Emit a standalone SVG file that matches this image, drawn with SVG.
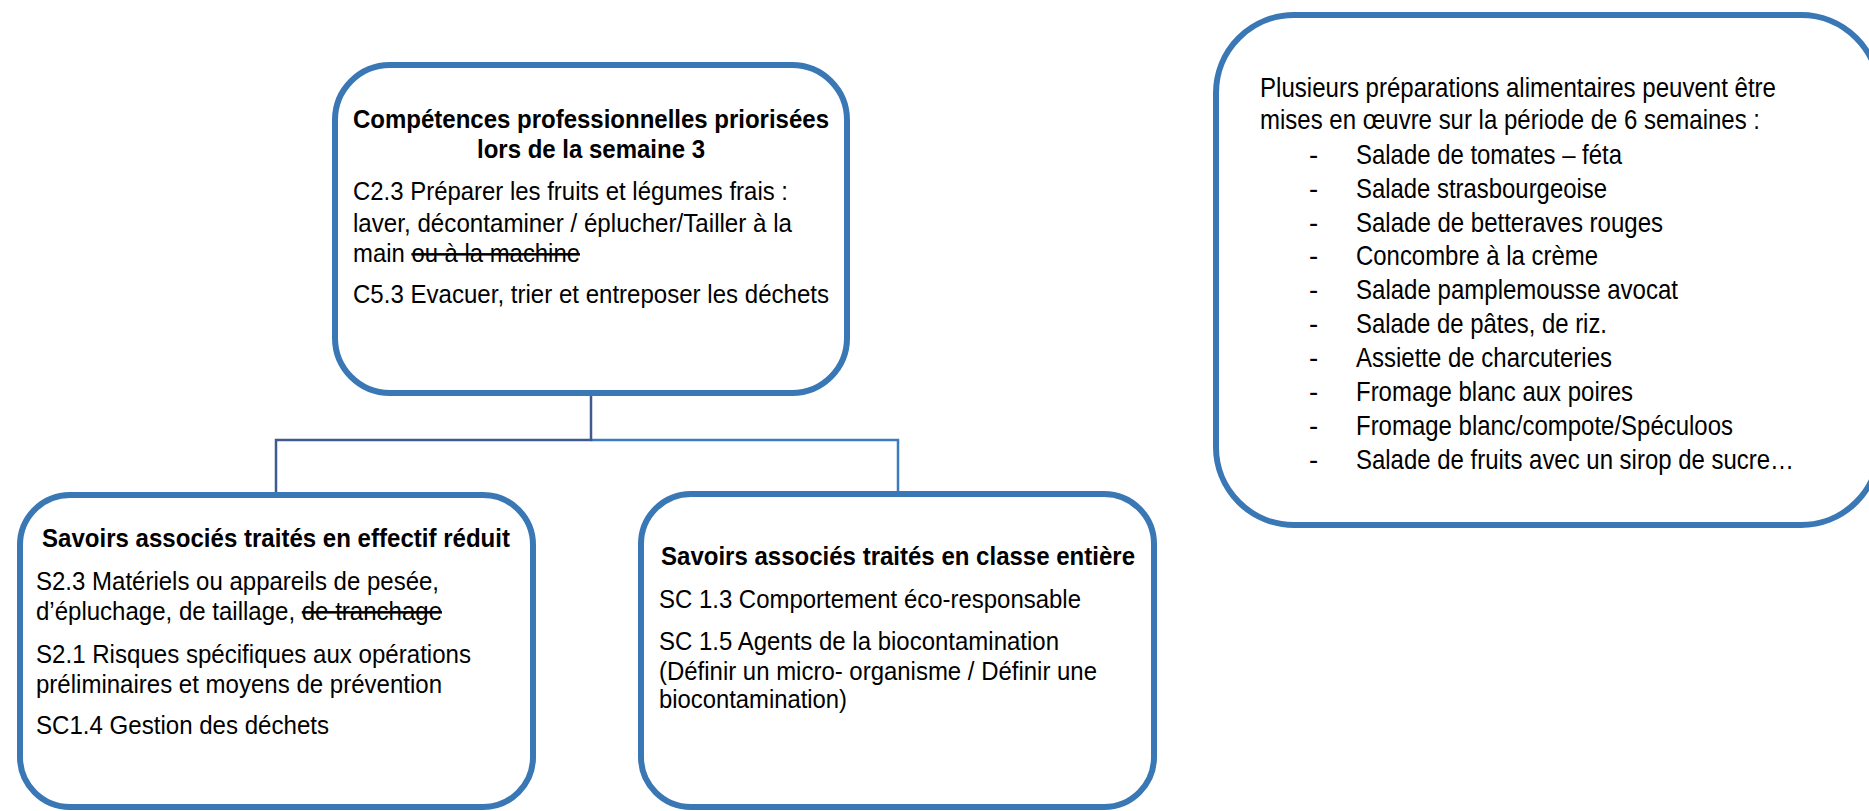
<svg xmlns="http://www.w3.org/2000/svg" width="1869" height="811" viewBox="0 0 1869 811">
<style>
.box{fill:#fff;stroke:#3a77b5;stroke-width:6}
.t{font-family:"Liberation Sans",Arial,sans-serif;font-size:25px;fill:#000}
.tb{font-family:"Liberation Sans",Arial,sans-serif;font-size:25px;font-weight:bold;fill:#000}
.tr{font-family:"Liberation Sans",Arial,sans-serif;font-size:27.5px;fill:#000}
.s{text-decoration:line-through}
</style>
<rect width="1869" height="811" fill="#fff"/>
<g id="connectors" fill="none" stroke-width="2.5">
<path d="M591,440 H898 V494" stroke="#3b7bbf"/>
<path d="M591,395 V440 H276 V495" stroke="#3f5a8f"/>
</g>
<g id="node-top">
<rect class="box" x="335" y="65" width="512" height="328" rx="55"/>
<text class="tb" x="591" y="128" text-anchor="middle" textLength="476" lengthAdjust="spacingAndGlyphs">Compétences professionnelles priorisées</text>
<text class="tb" x="591" y="158" text-anchor="middle" textLength="228" lengthAdjust="spacingAndGlyphs">lors de la semaine 3</text>
<text class="t" x="353" y="200" textLength="435" lengthAdjust="spacingAndGlyphs">C2.3 Préparer les fruits et légumes frais :</text>
<text class="t" x="353" y="232" textLength="439" lengthAdjust="spacingAndGlyphs">laver, décontaminer / éplucher/Tailler à la</text>
<text class="t" x="353" y="262" textLength="227" lengthAdjust="spacingAndGlyphs">main <tspan class="s">ou à la machine</tspan></text>
<text class="t" x="353" y="303" textLength="476" lengthAdjust="spacingAndGlyphs">C5.3 Evacuer, trier et entreposer les déchets</text>
</g>
<g id="node-left">
<rect class="box" x="20" y="495" width="513" height="312" rx="50"/>
<text class="tb" x="276" y="547" text-anchor="middle" textLength="468" lengthAdjust="spacingAndGlyphs">Savoirs associés traités en effectif réduit</text>
<text class="t" x="36" y="590" textLength="403" lengthAdjust="spacingAndGlyphs">S2.3 Matériels ou appareils de pesée,</text>
<text class="t" x="36" y="620" textLength="406" lengthAdjust="spacingAndGlyphs">d’épluchage, de taillage, <tspan class="s">de tranchage</tspan></text>
<text class="t" x="36" y="663" textLength="435" lengthAdjust="spacingAndGlyphs">S2.1 Risques spécifiques aux opérations</text>
<text class="t" x="36" y="693" textLength="406" lengthAdjust="spacingAndGlyphs">préliminaires et moyens de prévention</text>
<text class="t" x="36" y="734" textLength="293" lengthAdjust="spacingAndGlyphs">SC1.4 Gestion des déchets</text>
</g>
<g id="node-right">
<rect class="box" x="641" y="494" width="513" height="313" rx="50"/>
<text class="tb" x="898" y="565" text-anchor="middle" textLength="474" lengthAdjust="spacingAndGlyphs">Savoirs associés traités en classe entière</text>
<text class="t" x="659" y="608" textLength="422" lengthAdjust="spacingAndGlyphs">SC 1.3 Comportement éco-responsable</text>
<text class="t" x="659" y="650" textLength="400" lengthAdjust="spacingAndGlyphs">SC 1.5 Agents de la biocontamination</text>
<text class="t" x="659" y="680" textLength="438" lengthAdjust="spacingAndGlyphs">(Définir un micro- organisme / Définir une</text>
<text class="t" x="659" y="708" textLength="188" lengthAdjust="spacingAndGlyphs">biocontamination)</text>
</g>
<g id="node-preparations">
<rect class="box" x="1216" y="15" width="663" height="510" rx="78"/>
<text class="tr" x="1260" y="97" textLength="516" lengthAdjust="spacingAndGlyphs">Plusieurs préparations alimentaires peuvent être</text>
<text class="tr" x="1260" y="129" textLength="500" lengthAdjust="spacingAndGlyphs">mises en œuvre sur la période de 6 semaines :</text>
<g class="tr">
<text x="1309" y="164">-</text><text x="1356" y="164" textLength="266" lengthAdjust="spacingAndGlyphs">Salade de tomates – féta</text>
<text x="1309" y="198">-</text><text x="1356" y="198" textLength="251" lengthAdjust="spacingAndGlyphs">Salade strasbourgeoise</text>
<text x="1309" y="232">-</text><text x="1356" y="232" textLength="307" lengthAdjust="spacingAndGlyphs">Salade de betteraves rouges</text>
<text x="1309" y="265">-</text><text x="1356" y="265" textLength="242" lengthAdjust="spacingAndGlyphs">Concombre à la crème</text>
<text x="1309" y="299">-</text><text x="1356" y="299" textLength="322" lengthAdjust="spacingAndGlyphs">Salade pamplemousse avocat</text>
<text x="1309" y="333">-</text><text x="1356" y="333" textLength="251" lengthAdjust="spacingAndGlyphs">Salade de pâtes, de riz.</text>
<text x="1309" y="367">-</text><text x="1356" y="367" textLength="256" lengthAdjust="spacingAndGlyphs">Assiette de charcuteries</text>
<text x="1309" y="401">-</text><text x="1356" y="401" textLength="277" lengthAdjust="spacingAndGlyphs">Fromage blanc aux poires</text>
<text x="1309" y="435">-</text><text x="1356" y="435" textLength="377" lengthAdjust="spacingAndGlyphs">Fromage blanc/compote/Spéculoos</text>
<text x="1309" y="469">-</text><text x="1356" y="469" textLength="438" lengthAdjust="spacingAndGlyphs">Salade de fruits avec un sirop de sucre…</text>
</g>
</g>
</svg>
